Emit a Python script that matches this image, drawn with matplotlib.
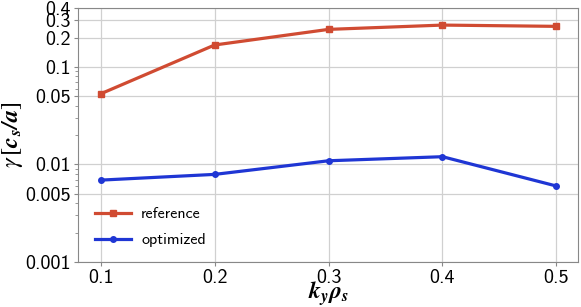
import matplotlib
matplotlib.use('Agg')
import matplotlib.pyplot as plt
from matplotlib.ticker import FixedLocator, FixedFormatter, LogLocator, NullFormatter

plt.rcParams['mathtext.fontset'] = 'stix'
plt.rcParams['font.family'] = ['cmss10', 'DejaVu Sans']
plt.rcParams['axes.unicode_minus'] = False

# data
ky = [0.1, 0.2, 0.3, 0.4, 0.5]
gamma_reference = [0.053, 0.168, 0.243, 0.269, 0.261]
gamma_optimized = [0.0069, 0.0079, 0.0109, 0.0120, 0.0060]
yticks = [0.001, 0.005, 0.01, 0.05, 0.1, 0.2, 0.3, 0.4]
ytick_labels = ['0.001', '0.005', '0.01', '0.05', '0.1', '0.2', '0.3', '0.4']
xticks = [0.1, 0.2, 0.3, 0.4, 0.5]
xtick_labels = ['0.1', '0.2', '0.3', '0.4', '0.5']

fig = plt.figure(figsize=(5.81, 3.07), dpi=100)
ax = fig.add_axes([0.134, 0.147, 0.861, 0.826])

ax.plot(ky, gamma_reference, 's-', color='#d04b32', lw=2.3, ms=4.5, label='reference')
ax.plot(ky, gamma_optimized, 'o-', color='#1f36d4', lw=2.3, ms=4, label='optimized')

ax.set_yscale('log')
ax.set_ylim(0.001, 0.4)
ax.set_xlim(0.08, 0.519)

ax.yaxis.set_major_locator(FixedLocator(yticks))
ax.yaxis.set_major_formatter(FixedFormatter(ytick_labels))
ax.yaxis.set_minor_locator(LogLocator(subs=range(2, 10)))
ax.yaxis.set_minor_formatter(NullFormatter())
ax.set_xticks(xticks)
ax.set_xticklabels(xtick_labels)

ax.tick_params(labelsize=14.5, color='#888888', length=3, width=0.8, pad=2)
ax.tick_params(which='minor', length=2, color='#888888')
ax.grid(True, which='major', color='#d0d0d0', lw=0.9)
for s in ax.spines.values():
    s.set_color('#888888')

ax.set_xlabel(r'$\mathbfit{k_y\rho_s}$', fontsize=17)
ax.set_ylabel(r'$\gamma\,[\mathbfit{c_s/a}]$', fontsize=17.5)
ax.xaxis.set_label_coords(0.5, -0.068)
ax.yaxis.set_label_coords(-0.106, 0.5)

ax.legend(loc='lower left', frameon=False, fontsize=11.5, handlelength=2.3,
          handletextpad=0.6, numpoints=1, labelspacing=0.75,
          bbox_to_anchor=(0.005, 0.0))

fig.savefig('out.png', dpi=100)
